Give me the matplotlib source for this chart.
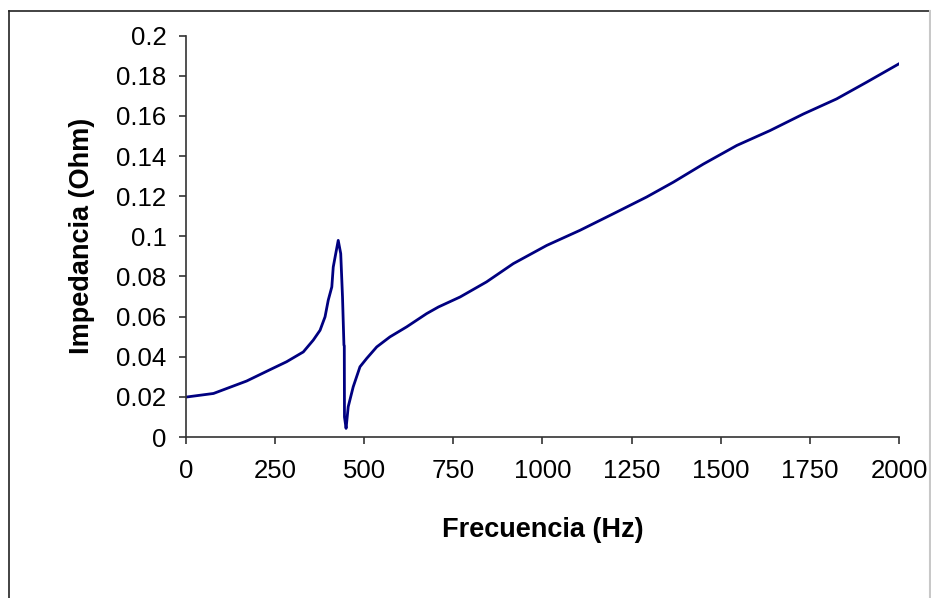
import matplotlib
matplotlib.use('Agg')
import matplotlib.pyplot as plt
from matplotlib.lines import Line2D

plt.rcParams['font.family'] = ['Liberation Sans', 'DejaVu Sans']

# Datos
frecuencia = [0, 77, 170, 235, 282, 329, 357, 376, 390, 399, 409, 413, 420,
              427, 434, 439, 443, 444, 444.5, 449, 455, 469, 488, 507, 535,
              572, 619, 675, 708, 769, 843, 918, 1012, 1105, 1199, 1292,
              1367, 1451, 1545, 1638, 1732, 1825, 1909, 2000]
impedancia = [0.0199, 0.0217, 0.0279, 0.0335, 0.0375, 0.0424, 0.0483, 0.0532,
              0.0599, 0.0682, 0.0748, 0.0847, 0.0914, 0.098, 0.0914, 0.0698,
              0.0458, 0.0455, 0.0100, 0.0043, 0.0151, 0.025, 0.035, 0.0392,
              0.0449, 0.0499, 0.0549, 0.0615, 0.0648, 0.0698, 0.0773, 0.0864,
              0.0955, 0.103, 0.1113, 0.1196, 0.127, 0.136, 0.1453, 0.1527,
              0.161, 0.1685, 0.1768, 0.186]
xticks = [0, 250, 500, 750, 1000, 1250, 1500, 1750, 2000]
yticks = [0, 0.02, 0.04, 0.06, 0.08, 0.1, 0.12, 0.14, 0.16, 0.18, 0.2]
ytick_labels = ['0', '0.02', '0.04', '0.06', '0.08', '0.1', '0.12', '0.14',
                '0.16', '0.18', '0.2']

fig = plt.figure(figsize=(9.31, 5.98), dpi=100)
fig.patch.set_facecolor('white')
ax = fig.add_axes([0.1998, 0.2692, 0.7658, 0.6711])

ax.plot(frecuencia, impedancia, color='#000080', linewidth=2.0)

ax.set_xlim(0, 2000)
ax.set_ylim(0, 0.2)
ax.set_xticks(xticks)
ax.set_xticklabels([str(t) for t in xticks])
ax.set_yticks(yticks)
ax.set_yticklabels(ytick_labels)

for side in ['top', 'right']:
    ax.spines[side].set_visible(False)
for side in ['left', 'bottom']:
    ax.spines[side].set_color('#333333')
    ax.spines[side].set_linewidth(1.2)

ax.tick_params(axis='x', direction='out', length=5, width=1.2, color='#333333',
               labelsize=18.5, pad=11)
ax.tick_params(axis='y', direction='out', length=5, width=1.2, color='#333333',
               labelsize=18.5, pad=9)

ax.set_xlabel('Frecuencia (Hz)', fontsize=19.5, fontweight='bold', labelpad=24)
ax.set_ylabel('Impedancia (Ohm)', fontsize=19.5, fontweight='bold', labelpad=15)

# marco exterior
fig.add_artist(Line2D([0.0097, 0.0097], [-0.01, 0.9816], color='#222222', lw=1.2))
fig.add_artist(Line2D([0.0097, 0.9984], [0.9816, 0.9816], color='#222222', lw=1.2))
fig.add_artist(Line2D([0.9984, 0.9984], [-0.01, 0.9816], color='#c8c8c8', lw=1.5))

fig.savefig('out.png', dpi=100, facecolor='white')
